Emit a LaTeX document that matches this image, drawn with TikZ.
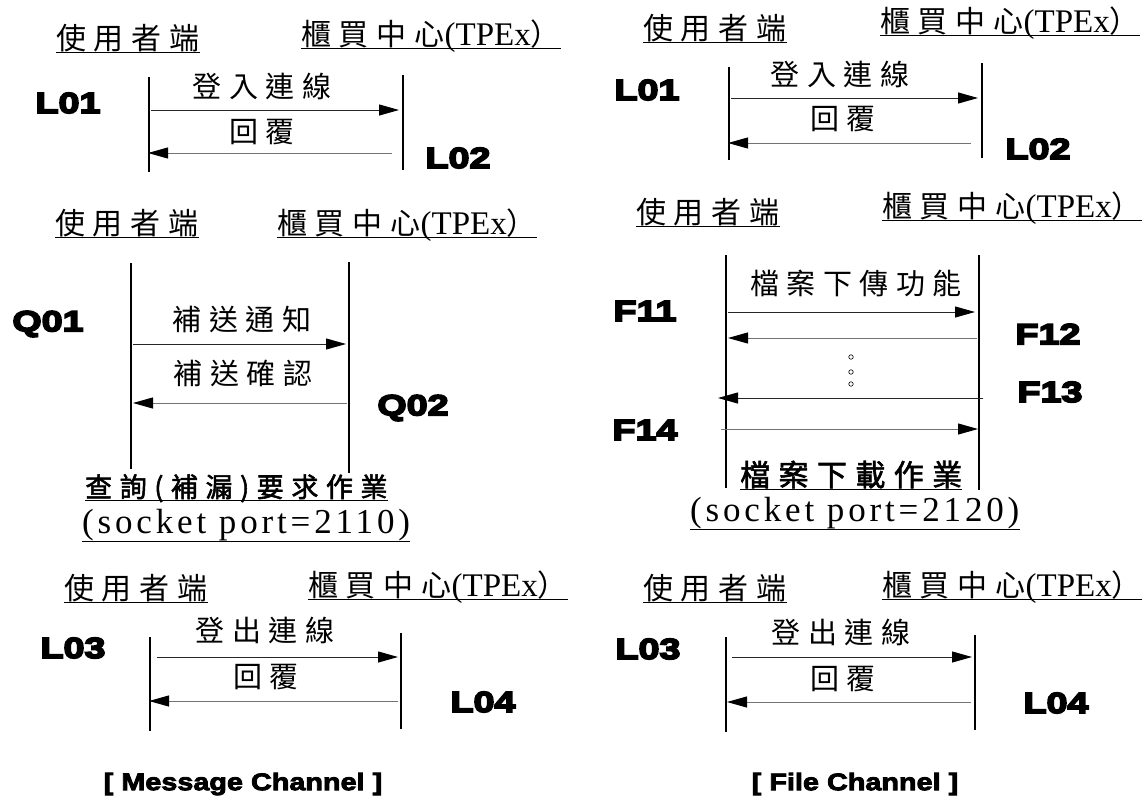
\documentclass[tikz,border=0pt]{standalone}
\usepackage{fontspec}
\setmainfont{Liberation Serif}
\newfontfamily\cjk{Noto Sans CJK TC}[LetterSpace=26]
\newfontfamily\cjkq{Noto Sans CJK TC}[LetterSpace=28,FakeBold=2]
\newfontfamily\cjkf{Noto Sans CJK TC}[LetterSpace=28,FakeBold=2]
\newfontfamily\lat{Liberation Serif}
\newfontfamily\latw{Liberation Serif}[LetterSpace=11]
\newfontfamily\tagf{Liberation Sans}[BoldFeatures={FakeBold=6,FakeStretch=1.3}]
\newfontfamily\chanf{Liberation Sans}[BoldFeatures={FakeBold=3.5,FakeStretch=1.2}]
\usetikzlibrary{arrows.meta}
\tikzset{
  ul/.style={append after command={([yshift=-#1]\tikzlastnode.base west) edge[line width=0.9pt] ([yshift=-#1]\tikzlastnode.base east)}},
  hdr/.style={font=\cjk\fontsize{30}{30}\selectfont, inner sep=0pt, anchor=base west, ul=3pt},
  msg/.style={font=\cjk\fontsize{29}{29}\selectfont, inner sep=0pt},
  fq/.style={font=\cjkq\fontsize{27}{27}\selectfont, inner sep=0pt, anchor=base west, ul=3pt},
  ff/.style={font=\cjkf\fontsize{30}{30}\selectfont, inner sep=0pt, anchor=base west, ul=3pt},
  sock/.style={font=\latw\fontsize{35}{35}\selectfont, inner sep=0pt, anchor=base west, ul=8pt},
  tag/.style={font=\tagf\bfseries\fontsize{29}{29}\selectfont, inner sep=0pt},
  chan/.style={font=\chanf\bfseries\fontsize{24}{24}\selectfont, inner sep=0pt},
  life/.style={line width=2.6pt},
  fwd/.style={line width=1pt, draw=black!85, -{Triangle[length=20pt,width=11pt,color=black]}},
  bwd/.style={line width=1pt, draw=black!55, -{Triangle[length=20pt,width=11pt,color=black]}},
  dot/.style={circle, draw, line width=0.6pt, inner sep=0pt, minimum size=4.5pt},
}
\newcommand{\ctr}{櫃買中心{\lat\fontsize{33}{33}\selectfont (TPEx}）}
\begin{document}
\begin{tikzpicture}[x=1pt,y=-1pt]
\useasboundingbox[fill=white] (0,0) rectangle (1143,803);
% ---------- Panel TL ----------
\node[hdr] (h1a) at (56,49) {使用者端};
\node[hdr] (h1b) at (301,45) {\ctr};
\coordinate (l1t) at (149,77); \coordinate (l1b) at (149,172);
\coordinate (r1t) at (403,75); \coordinate (r1b) at (403,170);
\draw[life] (l1t) -- (l1b); \draw[life] (r1t) -- (r1b);
\node[msg] (m1a) at (262,86) {登入連線};
\node[msg] (m1b) at (262,132) {回覆};
\coordinate (a1s) at (151,110); \coordinate (a1e) at (399,110);
\coordinate (b1s) at (392,153); \coordinate (b1e) at (148,153);
\draw[fwd] (a1s) -- (a1e); \draw[bwd] (b1s) -- (b1e);
\node[tag] (t1a) at (68,103) {L01};
\node[tag] (t1b) at (458,158) {L02};
% ---------- Panel ML ----------
\node[hdr] (h2a) at (55,234) {使用者端};
\node[hdr] (h2b) at (277,234) {\ctr};
\coordinate (l2t) at (131,263); \coordinate (l2b) at (131,469);
\coordinate (r2t) at (349,262); \coordinate (r2b) at (349,473);
\draw[life] (l2t) -- (l2b); \draw[life] (r2t) -- (r2b);
\node[msg] (m2a) at (242,319) {補送通知};
\node[msg] (m2b) at (243,373) {補送確認};
\coordinate (a2s) at (133,344); \coordinate (a2e) at (346,344);
\coordinate (b2s) at (347,403); \coordinate (b2e) at (133,403);
\draw[fwd] (a2s) -- (a2e); \draw[bwd] (b2s) -- (b2e);
\node[tag] (t2a) at (48,324) {Q01};
\node[tag] (t2b) at (413,408) {Q02};
\node[fq] (f2a) at (85,497) {查詢(補漏)要求作業};
\node[sock] (f2b) at (82,533) {(socket port=2110)};
% ---------- Panel BL ----------
\node[hdr] (h3a) at (64,599) {使用者端};
\node[hdr] (h3b) at (308,596) {\ctr};
\coordinate (l3t) at (150,637); \coordinate (l3b) at (150,731);
\coordinate (r3t) at (401,633); \coordinate (r3b) at (401,729);
\draw[life] (l3t) -- (l3b); \draw[life] (r3t) -- (r3b);
\node[msg] (m3a) at (265,630) {登出連線};
\node[msg] (m3b) at (266,677) {回覆};
\coordinate (a3s) at (157,657); \coordinate (a3e) at (398,657);
\coordinate (b3s) at (398,701); \coordinate (b3e) at (149,701);
\draw[fwd] (a3s) -- (a3e); \draw[bwd] (b3s) -- (b3e);
\node[tag] (t3a) at (73,648) {L03};
\node[tag] (t3b) at (483,702) {L04};
\node[chan] (c1) at (243,784) {[ Message Channel ]};
% ---------- Panel TR ----------
\node[hdr] (h4a) at (643,39) {使用者端};
\node[hdr] (h4b) at (880,32) {\ctr};
\coordinate (l4t) at (729,67); \coordinate (l4b) at (729,160);
\coordinate (r4t) at (982,63); \coordinate (r4b) at (982,158);
\draw[life] (l4t) -- (l4b); \draw[life] (r4t) -- (r4b);
\node[msg] (m4a) at (840,74) {登入連線};
\node[msg] (m4b) at (843,119) {回覆};
\coordinate (a4s) at (731,98); \coordinate (a4e) at (978,98);
\coordinate (b4s) at (971,143); \coordinate (b4e) at (728,143);
\draw[fwd] (a4s) -- (a4e); \draw[bwd] (b4s) -- (b4e);
\node[tag] (t4a) at (647,90) {L01};
\node[tag] (t4b) at (1038,149) {L02};
% ---------- Panel MR ----------
\node[hdr] (h5a) at (636,223) {使用者端};
\node[hdr] (h5b) at (882,217) {\ctr};
\coordinate (l5t) at (726,255); \coordinate (l5b) at (726,488);
\coordinate (r5t) at (979,255); \coordinate (r5b) at (979,490);
\draw[life] (l5t) -- (l5b); \draw[life] (r5t) -- (r5b);
\node[msg] (m5a) at (856,283) {檔案下傳功能};
\coordinate (a5s) at (728,312); \coordinate (a5e) at (975,312);
\coordinate (b5s) at (977,338); \coordinate (b5e) at (728,338);
\coordinate (c5s) at (983,398); \coordinate (c5e) at (718,398);
\coordinate (d5s) at (721,429); \coordinate (d5e) at (978,429);
\draw[fwd] (a5s) -- (a5e); \draw[bwd] (b5s) -- (b5e);
\draw[fwd] (c5s) -- (c5e); \draw[bwd] (d5s) -- (d5e);
\node[dot] (d1) at (851,357) {};
\node[dot] (d2) at (851,372) {};
\node[dot] (d3) at (851,384) {};
\node[tag] (t5a) at (645,311) {F11};
\node[tag] (t5b) at (1048,334) {F12};
\node[tag] (t5c) at (1050,392) {F13};
\node[tag] (t5d) at (645,430) {F14};
\node[ff] (f5a) at (740,486) {檔案下載作業};
\node[sock] (f5b) at (690,521) {(socket port=2120)};
% ---------- Panel BR ----------
\node[hdr] (h6a) at (643,599) {使用者端};
\node[hdr] (h6b) at (882,596) {\ctr};
\coordinate (l6t) at (726,637); \coordinate (l6b) at (726,732);
\coordinate (r6t) at (975,635); \coordinate (r6b) at (975,730);
\draw[life] (l6t) -- (l6b); \draw[life] (r6t) -- (r6b);
\node[msg] (m6a) at (841,632) {登出連線};
\node[msg] (m6b) at (843,679) {回覆};
\coordinate (a6s) at (732,657); \coordinate (a6e) at (972,657);
\coordinate (b6s) at (971,702); \coordinate (b6e) at (727,702);
\draw[fwd] (a6s) -- (a6e); \draw[bwd] (b6s) -- (b6e);
\node[tag] (t6a) at (648,649) {L03};
\node[tag] (t6b) at (1056,703) {L04};
\node[chan] (c2) at (855,784) {[ File Channel ]};
\end{tikzpicture}
\end{document}
